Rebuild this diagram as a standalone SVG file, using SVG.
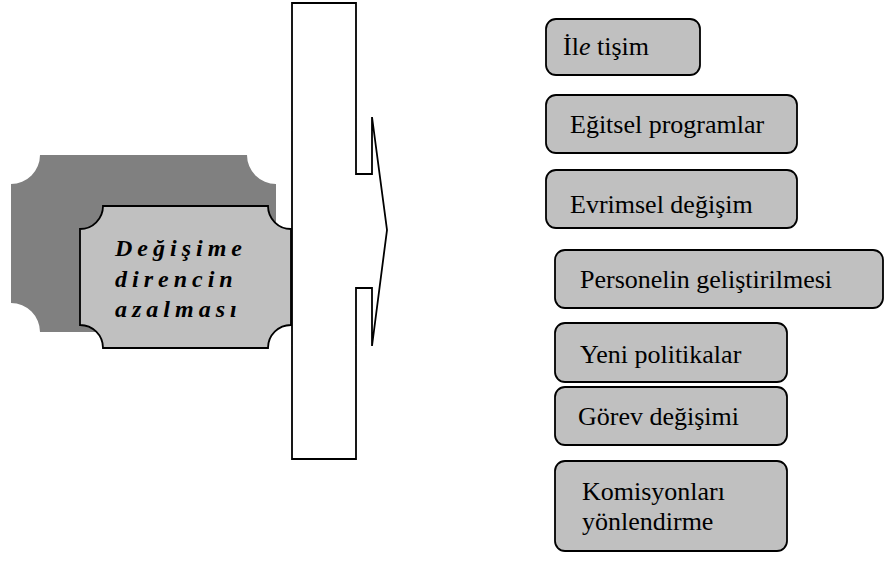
<svg xmlns="http://www.w3.org/2000/svg" width="886" height="561" viewBox="0 0 886 561">
<style>
.box{fill:#c0c0c0;stroke:#000;stroke-width:1.8}
.t{font-family:"Liberation Serif","Times New Roman",serif;font-size:26px;fill:#000}
.lt{font-family:"Liberation Serif","Times New Roman",serif;font-size:24px;font-weight:bold;font-style:italic;letter-spacing:5px;fill:#000}
</style>
<rect width="886" height="561" fill="#fff"/>
<g id="source">
<path d="M40,155 L247,155 A29,29 0 0 0 276,184 L276,303 A29,29 0 0 0 247,332 L40,332 A29,29 0 0 0 11,303 L11,184 A29,29 0 0 0 40,155 Z" fill="#808080"/>
<path d="M103,206 L268,206 A23,23 0 0 0 291,229 L291,325 A23,23 0 0 0 268,348 L103,348 A23,23 0 0 0 80,325 L80,229 A23,23 0 0 0 103,206 Z" fill="#c0c0c0" stroke="#000" stroke-width="1.8"/>
<text class="lt" x="115" y="256">Değişime</text>
<text class="lt" x="115" y="287">direncin</text>
<text class="lt" x="115" y="317">azalması</text>
</g>
<g id="connectors">
<polygon points="292,3 356,3 356,174 372,174 372,117 387,230 372,346 372,288 356,288 356,459 292,459" fill="#fff" stroke="#000" stroke-width="1.8"/>
</g>
<g id="n1"><rect class="box" x="546" y="19" width="154" height="56" rx="10"/><text class="t" x="563" y="55">İl<tspan font-style="italic">e</tspan> tişim</text></g>
<g id="n2"><rect class="box" x="546" y="95" width="251" height="58" rx="10"/><text class="t" x="570" y="133">Eğitsel programlar</text></g>
<g id="n3"><rect class="box" x="546" y="170" width="251" height="58" rx="10"/><text class="t" x="570" y="213">Evrimsel değişim</text></g>
<g id="n4"><rect class="box" x="555" y="250" width="328" height="58" rx="10"/><text class="t" x="580" y="288">Personelin geliştirilmesi</text></g>
<g id="n5"><rect class="box" x="555" y="323" width="232" height="59" rx="10"/><text class="t" x="580" y="363">Yeni politikalar</text></g>
<g id="n6"><rect class="box" x="555" y="387" width="232" height="58" rx="10"/><text class="t" x="578" y="425">Görev değişimi</text></g>
<g id="n7"><rect class="box" x="555" y="461" width="232" height="90" rx="10"/><text class="t" x="582" y="500">Komisyonları</text><text class="t" x="582" y="530">yönlendirme</text></g>
</svg>
